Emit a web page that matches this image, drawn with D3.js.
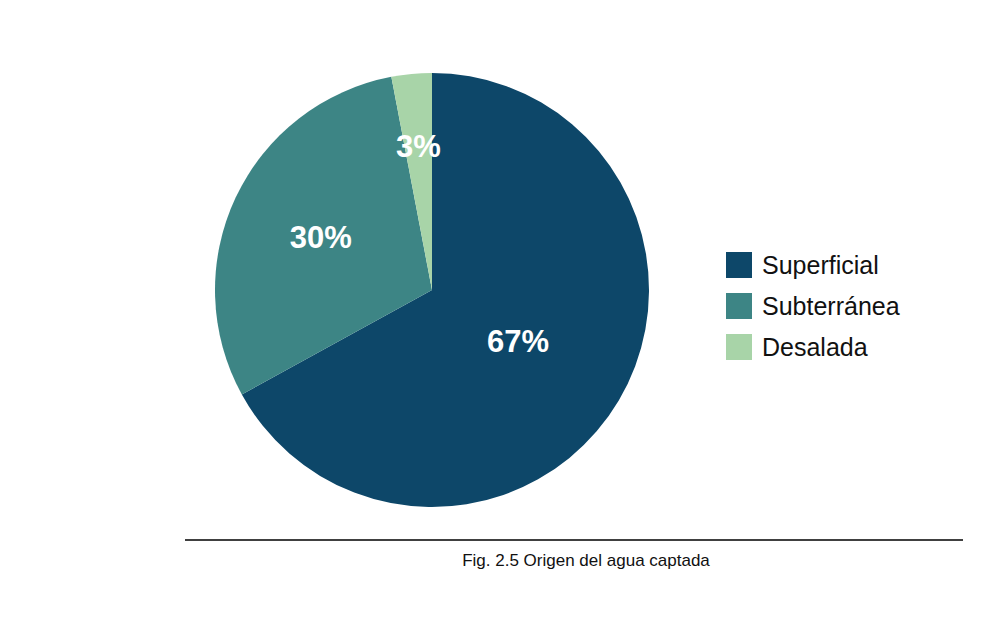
<!DOCTYPE html>
<html><head><meta charset="utf-8">
<script src="https://cdn.jsdelivr.net/npm/d3@7"></script>
<style>body{margin:0;background:#fff}</style></head>
<body><svg id="c" width="982" height="628"></svg>
<script>
const categories = ["Superficial", "Subterránea", "Desalada"];
const values = [67, 30, 3];
const colors = ["#0d4769", "#3d8585", "#a8d4a8"];
const labelRadius = [100, 123, 145];
const caption = "Fig. 2.5 Origen del agua captada";

const svg = d3.select("#c");
const cx = 432, cy = 290, R = 217;
const pie = d3.pie().sort(null).value(d => d)(values);
const arc = d3.arc().innerRadius(0).outerRadius(R);
const g = svg.append("g").attr("transform", `translate(${cx},${cy})`);
g.selectAll("path").data(pie).join("path").attr("d", arc).attr("fill", (d, i) => colors[i]);
g.selectAll("text").data(pie).join("text")
  .attr("transform", (d, i) => `translate(${d3.arc().innerRadius(labelRadius[i]).outerRadius(labelRadius[i]).centroid(d)})`)
  .attr("text-anchor", "middle").attr("dy", "0.35em")
  .attr("font-family", "Liberation Sans, Arial").attr("font-weight", "bold").attr("font-size", 31)
  .attr("fill", "#fff").text(d => d.value + "%");

const leg = svg.append("g");
categories.forEach((c, i) => {
  const y = 252 + i * 41;
  leg.append("rect").attr("x", 726).attr("y", y).attr("width", 26).attr("height", 26).attr("fill", colors[i]);
  leg.append("text").attr("x", 762).attr("y", y + 13).attr("dy", "0.35em")
    .attr("font-family", "Liberation Sans, Arial").attr("font-size", 25).attr("fill", "#111").text(c);
});
svg.append("line").attr("x1", 185).attr("x2", 963).attr("y1", 540).attr("y2", 540).attr("stroke", "#000").attr("stroke-width", 1.5);
svg.append("text").attr("x", 586).attr("y", 566).attr("text-anchor", "middle")
  .attr("font-family", "Liberation Sans, Arial").attr("font-size", 17).attr("fill", "#111").text(caption);
</script></body></html>
